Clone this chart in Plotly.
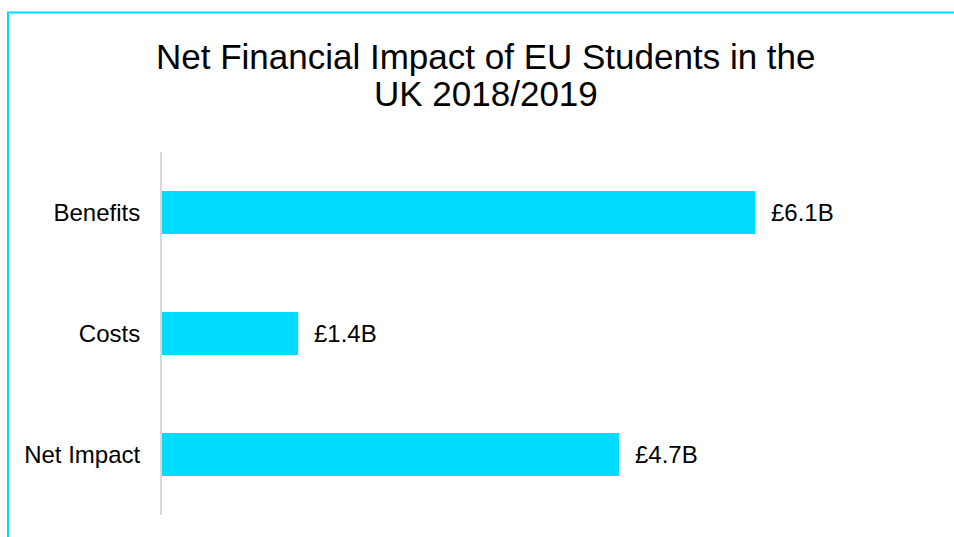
import plotly.graph_objects as go

# Categories and values (billions of pounds)
categories = ["Benefits", "Costs", "Net Impact"]
values = [6.1, 1.4, 4.7]
value_labels = ["£6.1B", "£1.4B", "£4.7B"]
title_lines = ["Net Financial Impact of EU Students in the", "UK 2018/2019"]

CYAN = "#00DCFF"
FONT = "Liberation Sans, Arial, sans-serif"

fig = go.Figure(
    go.Bar(
        x=values,
        y=categories,
        orientation="h",
        marker=dict(color=CYAN, line=dict(width=0)),
        width=0.355,
        hoverinfo="skip",
    )
)

# Value labels placed just past each bar end
for cat, val, lab in zip(categories, values, value_labels):
    fig.add_annotation(
        x=val, y=cat, text=lab, showarrow=False,
        xanchor="left", yanchor="middle", xshift=14,
        font=dict(family=FONT, size=24, color="#000000"),
    )

L, R, T, B = 162, 14, 152, 22
plot_w = 954 - L - R
plot_h = 537 - T - B


def px_x(p):
    return (p - L) / plot_w


def px_y(p):
    return (537 - B - p) / plot_h


# Two-line title with tight line spacing
for line, cy in zip(title_lines, [56, 93]):
    fig.add_annotation(
        x=px_x(486), y=px_y(cy), xref="paper", yref="paper",
        text=line, showarrow=False, xanchor="center", yanchor="middle",
        font=dict(family=FONT, size=35, color="#000000"),
    )

# Outer frame around the chart
fig.add_shape(
    type="rect", xref="paper", yref="paper",
    x0=px_x(8), x1=px_x(975), y0=px_y(550), y1=px_y(12.5),
    line=dict(color=CYAN, width=2), fillcolor="rgba(0,0,0,0)", layer="above",
)

fig.update_layout(
    width=954, height=537,
    margin=dict(l=L, r=R, t=T, b=B),
    paper_bgcolor="white", plot_bgcolor="white",
    showlegend=False,
    xaxis=dict(range=[0, 8], visible=False, fixedrange=True),
    yaxis=dict(
        categoryorder="array", categoryarray=categories[::-1],
        showline=True, linecolor="#d9d9d9", linewidth=2,
        showgrid=False, zeroline=False, ticks="",
        ticklabelstandoff=15,
        tickfont=dict(family=FONT, size=24, color="#000000"),
    ),
)

fig.write_html("out.html")
